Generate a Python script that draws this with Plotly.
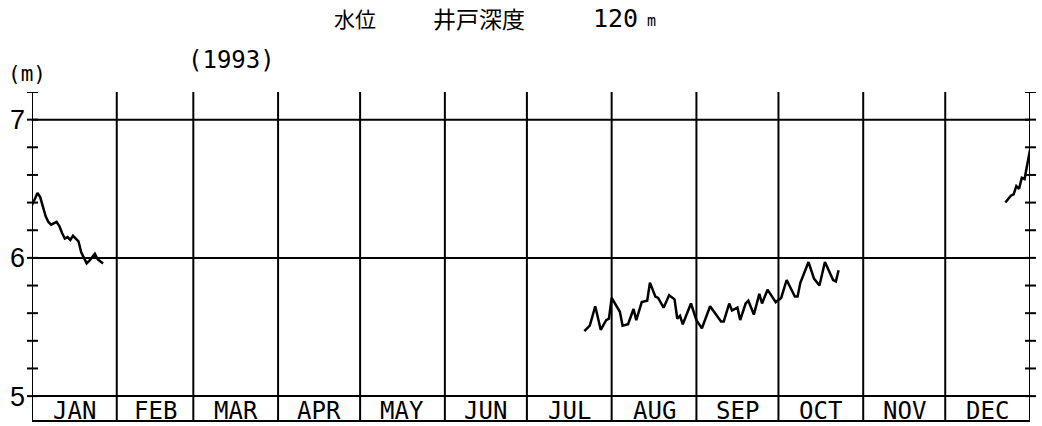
import numpy as np
import pandas as pd
import plotly.graph_objects as go

# ---------------- data ----------------
YEAR_START = "1993-01-01"
month_labels = ["JAN", "FEB", "MAR", "APR", "MAY", "JUN",
                "JUL", "AUG", "SEP", "OCT", "NOV", "DEC"]

# day-of-year offsets (0 = 1 Jan 1993) and water level (m)
jan_day = [0, 2, 3, 5, 6, 7, 9, 10, 11, 12, 13, 14, 15, 16, 17, 18, 20, 21, 23, 24, 26]
jan_level = [6.38, 6.47, 6.44, 6.30, 6.26, 6.24, 6.26, 6.23, 6.18, 6.14, 6.15,
             6.13, 6.16, 6.14, 6.12, 6.04, 5.96, 5.98, 6.03, 5.99, 5.96]

summer_day = [202, 204, 206, 208, 210, 211, 212, 215, 216, 218, 220, 221, 223, 225,
              226, 228, 229, 231, 233, 235, 236, 237, 238, 241, 243, 245, 248, 252,
              253, 255, 256, 258, 259, 261, 262, 264, 266, 267, 269, 272, 274, 276,
              279, 280, 281, 284, 286, 288, 290, 293, 294, 295]
summer_level = [5.47, 5.51, 5.65, 5.48, 5.55, 5.56, 5.71, 5.61, 5.51, 5.52, 5.63,
                5.55, 5.68, 5.69, 5.82, 5.72, 5.71, 5.64, 5.73, 5.70, 5.56, 5.58,
                5.52, 5.67, 5.55, 5.49, 5.65, 5.54, 5.54, 5.67, 5.62, 5.64, 5.55,
                5.67, 5.69, 5.59, 5.74, 5.67, 5.77, 5.68, 5.71, 5.84, 5.72, 5.72,
                5.82, 5.97, 5.85, 5.80, 5.97, 5.84, 5.83, 5.91]

dec_day = [356, 358, 359, 360, 361, 362, 363, 365]
dec_level = [6.40, 6.45, 6.46, 6.52, 6.50, 6.58, 6.57, 6.78]

y_labels = [5, 6, 7]
minor_ticks = np.round(np.arange(5.0, 7.21, 0.2), 2)
grid_levels = [5, 6, 7]

# ---------------- layout geometry ----------------
W, H = 1042, 426
L, R, T, B = 32, 12, 92, 5
PW, PH = W - L - R, H - T - B
Y_RANGE = [4.82, 7.2]


def to_date(days):
    return pd.Timestamp(YEAR_START) + pd.to_timedelta(np.asarray(days, dtype=float), unit="D")


def px_x(px):
    return (px - L) / PW


def px_y(py):
    return (H - B - py) / PH


month_starts = pd.date_range(YEAR_START, periods=13, freq="MS")
month_mid = month_starts[:-1] + (month_starts[1:] - month_starts[:-1]) / 2

fig = go.Figure()
for d, v in [(jan_day, jan_level), (summer_day, summer_level), (dec_day, dec_level)]:
    fig.add_trace(go.Scatter(x=to_date(d), y=v, mode="lines",
                             line=dict(color="black", width=2.5),
                             showlegend=False, hoverinfo="x+y"))

shapes = []
line_style = dict(color="black", width=2)
# month separators (including both axes)
for ms in month_starts:
    shapes.append(dict(type="line", xref="x", yref="paper", x0=ms, x1=ms, y0=0, y1=1,
                       line=line_style, layer="below"))
# horizontal grid lines and bottom border
for g in grid_levels:
    shapes.append(dict(type="line", xref="paper", yref="y", x0=0, x1=1, y0=g, y1=g,
                       line=line_style, layer="below"))
shapes.append(dict(type="line", xref="paper", yref="paper", x0=0, x1=1, y0=0, y1=0,
                   line=line_style, layer="below"))
# crossing tick marks on both vertical axes
for t in minor_ticks:
    for base in (0, 1):
        shapes.append(dict(type="line", xref="paper", yref="y",
                           x0=base - 5 / PW, x1=base + 6 / PW, y0=t, y1=t,
                           line=dict(color="black", width=2)))

mono = "DejaVu Sans Mono"
annotations = []
for m, lab in zip(month_mid, month_labels):
    annotations.append(dict(x=m, y=4.893, xref="x", yref="y", text=lab, showarrow=False,
                            font=dict(family=mono, size=24, color="black"),
                            xanchor="center", yanchor="middle"))

title_parts = [
    ("水位", 355, 18, "Noto Sans CJK JP", 21),
    ("井戸深度", 479, 18, "Noto Sans CJK JP", 23),
    ("120", 615, 18, mono, 25),
    ("m", 651, 21, mono, 15),
    ("(1993)", 231, 60, mono, 24),
    ("(m)", 27, 74, mono, 21),
]
for txt, x, y, fam, size in title_parts:
    annotations.append(dict(x=px_x(x), y=px_y(y), xref="paper", yref="paper", text=txt,
                            showarrow=False, font=dict(family=fam, size=size, color="black"),
                            xanchor="center", yanchor="middle"))

fig.update_layout(
    width=W, height=H, autosize=False,
    margin=dict(l=L, r=R, t=T, b=B, pad=0),
    paper_bgcolor="white", plot_bgcolor="white",
    shapes=shapes, annotations=annotations,
    xaxis=dict(range=[month_starts[0], month_starts[-1]], showgrid=False, zeroline=False,
               showticklabels=False, ticks="", showline=False),
    yaxis=dict(range=Y_RANGE, showgrid=False, zeroline=False, showline=False,
               tickvals=y_labels, ticktext=[str(v) for v in y_labels], ticks="",
               ticklabelstandoff=6,
               tickfont=dict(family="Liberation Sans", size=27, color="black")),
)

fig.write_html(
    "out.html",
    config={"displayModeBar": False},
    post_script="document.body.style.margin='0';document.body.style.overflow='hidden';",
)
